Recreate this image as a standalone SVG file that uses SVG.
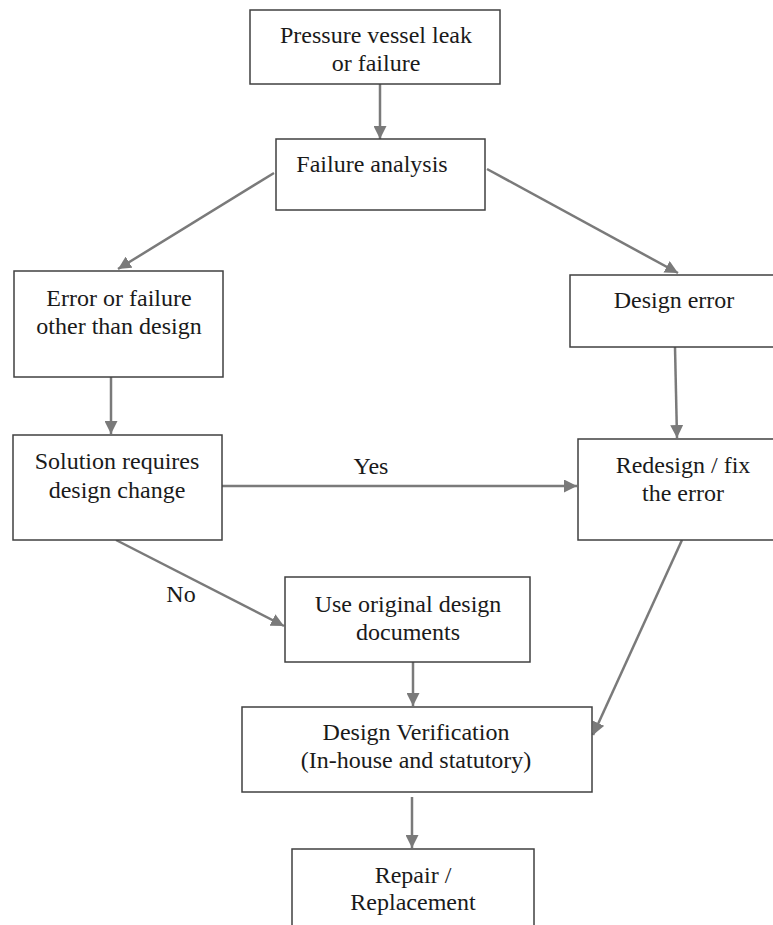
<svg xmlns="http://www.w3.org/2000/svg" width="773" height="925" viewBox="0 0 773 925">
<defs>
<style>
.box{fill:#fff;stroke:#404040;stroke-width:1.5}
.t{font-family:"Liberation Serif","Times New Roman",serif;font-size:24px;fill:#1a1a1a;text-anchor:middle}
.c{stroke:#7a7a7a;stroke-width:2.5;fill:none;marker-end:url(#ah)}
</style>
<marker id="ah" viewBox="0 0 13 13" refX="13" refY="6.5" markerWidth="13" markerHeight="13" markerUnits="userSpaceOnUse" orient="auto">
<path d="M0,0 L13,6.5 L0,13 Z" fill="#7a7a7a"/>
</marker>
</defs>
<rect width="773" height="925" fill="#fff"/>
<g id="connectors">
<line class="c" x1="380" y1="84" x2="380" y2="139"/>
<line class="c" x1="274" y1="173" x2="118" y2="269"/>
<line class="c" x1="487" y1="169" x2="678" y2="273"/>
<line class="c" x1="111" y1="377" x2="111" y2="434"/>
<line class="c" x1="675" y1="347" x2="677" y2="438"/>
<line class="c" x1="222" y1="486" x2="577" y2="486"/>
<line class="c" x1="116" y1="540" x2="284" y2="626"/>
<line class="c" x1="413" y1="662" x2="413" y2="706"/>
<line class="c" x1="682" y1="540" x2="593" y2="735"/>
<line class="c" x1="412" y1="797" x2="412" y2="848"/>
<text class="t" x="371" y="474">Yes</text>
<text class="t" x="181" y="602">No</text>
</g>
<g id="n1"><rect class="box" x="250" y="10" width="250" height="74"/>
<text class="t" x="376" y="43">Pressure vessel leak</text><text class="t" x="376" y="71">or failure</text></g>
<g id="n2"><rect class="box" x="276" y="139" width="209" height="71"/>
<text class="t" x="372" y="172">Failure analysis</text></g>
<g id="n3"><rect class="box" x="14" y="271" width="209" height="106"/>
<text class="t" x="119" y="306">Error or failure</text><text class="t" x="119" y="334">other than design</text></g>
<g id="n4"><rect class="box" x="570" y="275" width="210" height="72"/>
<text class="t" x="674" y="308">Design error</text></g>
<g id="n5"><rect class="box" x="13" y="435" width="209" height="105"/>
<text class="t" x="117" y="469">Solution requires</text><text class="t" x="117" y="498">design change</text></g>
<g id="n6"><rect class="box" x="578" y="439" width="200" height="101"/>
<text class="t" x="683" y="473">Redesign /  fix</text><text class="t" x="683" y="501">the error</text></g>
<g id="n7"><rect class="box" x="285" y="577" width="245" height="85"/>
<text class="t" x="408" y="612">Use original design</text><text class="t" x="408" y="640">documents</text></g>
<g id="n8"><rect class="box" x="242" y="707" width="350" height="85"/>
<text class="t" x="416" y="740">Design Verification</text><text class="t" x="416" y="768">(In-house and statutory)</text></g>
<g id="n9"><rect class="box" x="292" y="849" width="242" height="90"/>
<text class="t" x="413" y="883">Repair /</text><text class="t" x="413" y="910">Replacement</text></g>
</svg>
